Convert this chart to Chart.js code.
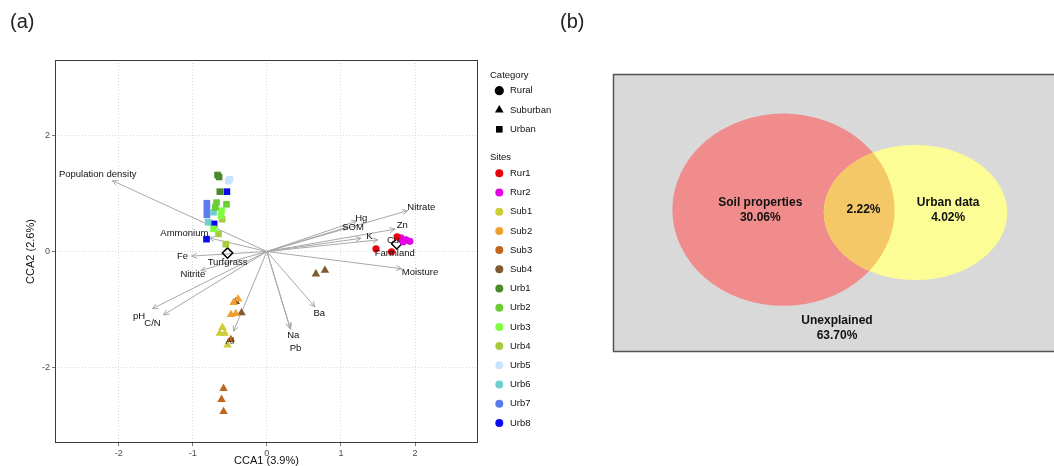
<!DOCTYPE html>
<html>
<head>
<meta charset="utf-8">
<script src="https://cdn.jsdelivr.net/npm/chart.js@4.4.0/dist/chart.umd.min.js"></script>
<style>
  html, body { margin: 0; padding: 0; background: #fff; }
  #wrap { position: relative; width: 1054px; height: 466px; overflow: hidden;
          font-family: 'Liberation Sans', Arial, Helvetica, sans-serif; }
  #cA { position: absolute; left: 0; top: 0; }
  #cB { position: absolute; left: 590px; top: 0; }
  .panel { position: absolute; font-size: 20px; line-height: 23px; color: #222; }
</style>
</head>
<body>
<div id="wrap">
  <canvas id="cA" width="590" height="466"></canvas>
  <canvas id="cB" width="464" height="466"></canvas>
  <div class="panel" style="left:10px;top:10px">(a)</div>
  <div class="panel" style="left:560px;top:10px">(b)</div>
</div>
<script>
// ---------- CCA ordination: site scores ----------
const categories = ['Rural', 'Suburban', 'Urban'];
const sites = ['Rur1', 'Rur2', 'Sub1', 'Sub2', 'Sub3', 'Sub4',
               'Urb1', 'Urb2', 'Urb3', 'Urb4', 'Urb5', 'Urb6', 'Urb7', 'Urb8'];
const siteCategory = ['Rural', 'Rural', 'Suburban', 'Suburban', 'Suburban', 'Suburban',
                      'Urban', 'Urban', 'Urban', 'Urban', 'Urban', 'Urban', 'Urban', 'Urban'];

// [CCA1, CCA2] per sample
const Rur1 = [[1.473, 0.046], [1.682, -0.005], [1.757, 0.253]];
const Rur2 = [[1.81, 0.235], [1.878, 0.201], [1.93, 0.175], [1.84, 0.167]];
const Sub1 = [[-0.599, -1.31], [-0.635, -1.41], [-0.568, -1.41], [-0.531, -1.61]];
const Sub2 = [[-0.388, -0.818], [-0.45, -0.88], [-0.486, -1.088], [-0.419, -1.07]];
const Sub3 = [[-0.486, -1.517], [-0.585, -2.36], [-0.612, -2.55], [-0.585, -2.76]];
const Sub4 = [[-0.419, -0.864], [-0.342, -1.058], [0.662, -0.388], [0.784, -0.326]];
const Urb1 = [[-0.666, 1.318], [-0.645, 1.284], [-0.635, 1.031]];
const Urb2 = [[-0.68, 0.842], [-0.545, 0.814], [-0.696, 0.76]];
const Urb3 = [[-0.612, 0.704], [-0.62, 0.619], [-0.72, 0.39]];
const Urb4 = [[-0.604, 0.557], [-0.653, 0.304], [-0.554, 0.127]];
const Urb5 = [[-0.50, 1.244], [-0.52, 1.215]];
const Urb6 = [[-0.72, 0.677], [-0.793, 0.505]];
const Urb7 = [[-0.81, 0.832], [-0.81, 0.734], [-0.81, 0.631]];
const Urb8 = [[-0.54, 1.031], [-0.712, 0.476], [-0.815, 0.213]];
const siteScores = [Rur1, Rur2, Sub1, Sub2, Sub3, Sub4, Urb1, Urb2, Urb3, Urb4, Urb5, Urb6, Urb7, Urb8];

// land-use centroids
const centroidNames = ['Turfgrass', 'Farmland'];
const centroidX = [-0.531, 1.753];
const centroidY = [-0.027, 0.132];

// environmental variable biplot arrows
const envNames = ['Population density', 'Ammonium', 'Fe', 'Nitrite', 'pH', 'C/N', 'Al',
                  'Na', 'Pb', 'Ba', 'Moisture', 'Cu', 'K', 'Zn', 'SOM', 'Hg', 'Nitrate'];
const envX = [-2.085, -0.78, -1.018, -0.892, -1.545, -1.396, -0.45,
              0.311, 0.32, 0.649, 1.82, 1.50, 1.27, 1.73, 1.095, 1.216, 1.90];
const envY = [1.22, 0.235, -0.079, -0.326, -0.985, -1.093, -1.375,
              -1.316, -1.34, -0.955, -0.297, 0.20, 0.227, 0.385, 0.424, 0.527, 0.704];

const xTicks = [-2, -1, 0, 1, 2];
const yTicks = [-2, 0, 2];
const xTitle = 'CCA1 (3.9%)';
const yTitle = 'CCA2 (2.6%)';

// ---------- variation partitioning ----------
const vennSets = ['Soil properties', 'Urban data'];
const vennShares = [30.06, 4.02];
const sharedShare = 2.22;
const unexplainedLabel = 'Unexplained';
const unexplainedShare = 63.70;

// ---------- styling ----------
const FONT = "'Liberation Sans', Arial, Helvetica, sans-serif";
Chart.defaults.font.family = FONT;
const siteColors = ['#e8000b', '#e600e6', '#cccc33', '#f0a030', '#c0661c', '#7f5a30',
                    '#4b8a2a', '#6acd34', '#80ff40', '#a6cb3e', '#c6e4ff', '#6fcfcf', '#5b7cf0', '#0a0af0'];
const shapeOf = { Rural: 'circle', Suburban: 'triangle', Urban: 'rect' };
const radiusOf = { Rural: 3.6, Suburban: 4.9, Urban: 4.7 };
// label placement relative to arrow tips (px)
const envLabelOffset = {
  'Population density': [-14.7, -6.7], 'Ammonium': [-24.7, -4], 'Fe': [-9, 0.4],
  'Nitrite': [-8, 4.3], 'pH': [-13.4, 7.7], 'C/N': [-11, 8], 'Al': [-3.7, 10],
  'Na': [3.3, 7.4], 'Pb': [5, 19], 'Ba': [4.3, 6.7], 'Moisture': [18.3, 3.3],
  'Cu': [15, 0], 'K': [8.5, -2], 'Zn': [7.3, -3.6], 'SOM': [5, 0],
  'Hg': [4.3, -2.7], 'Nitrate': [13.7, -3.4]
};
const centroidLabelOffset = [[0, 9], [-2, 9.5]];

const toXY = arr => arr.map(([x, y]) => ({ x, y }));

const datasets = sites.map((s, i) => ({
  label: s,
  data: toXY(siteScores[i]),
  pointStyle: shapeOf[siteCategory[i]],
  pointRadius: radiusOf[siteCategory[i]],
  backgroundColor: siteColors[i],
  borderColor: siteColors[i],
  borderWidth: 0,
  showLine: false
}));
datasets.push({
  label: 'centroids',
  data: centroidX.map((x, i) => ({ x, y: centroidY[i] })),
  pointStyle: 'rectRot',
  pointRadius: 5.2,
  backgroundColor: 'rgba(255,255,255,0)',
  borderColor: '#000',
  borderWidth: 1.5,
  showLine: false
});

function drawShape(ctx, shape, x, y, r) {
  ctx.beginPath();
  if (shape === 'circle') {
    ctx.arc(x, y, r, 0, Math.PI * 2);
  } else if (shape === 'triangle') {
    ctx.moveTo(x, y - r);
    ctx.lineTo(x + r * 0.866, y + r * 0.5);
    ctx.lineTo(x - r * 0.866, y + r * 0.5);
    ctx.closePath();
  } else {
    ctx.rect(x - r * 0.72, y - r * 0.72, r * 1.44, r * 1.44);
  }
  ctx.fill();
}

const biplot = {
  id: 'biplot',
  beforeDatasetsDraw(chart) {
    const { ctx, scales: { x, y } } = chart;
    const x0 = x.getPixelForValue(0), y0 = y.getPixelForValue(0);
    ctx.save();
    ctx.strokeStyle = '#a8a8a8';
    ctx.lineWidth = 1;
    envNames.forEach((n, i) => {
      const x1 = x.getPixelForValue(envX[i]), y1 = y.getPixelForValue(envY[i]);
      const a = Math.atan2(y1 - y0, x1 - x0), h = 6, s = Math.PI / 7;
      ctx.beginPath();
      ctx.moveTo(x0, y0);
      ctx.lineTo(x1, y1);
      ctx.moveTo(x1 - h * Math.cos(a - s), y1 - h * Math.sin(a - s));
      ctx.lineTo(x1, y1);
      ctx.lineTo(x1 - h * Math.cos(a + s), y1 - h * Math.sin(a + s));
      ctx.stroke();
    });
    ctx.restore();
  },
  afterDatasetsDraw(chart) {
    const { ctx, chartArea: a, scales: { x, y } } = chart;
    ctx.save();
    ctx.fillStyle = '#111';
    ctx.font = '9.5px ' + FONT;
    ctx.textAlign = 'center';
    ctx.textBaseline = 'middle';
    envNames.forEach((n, i) => {
      const o = envLabelOffset[n];
      ctx.fillText(n, x.getPixelForValue(envX[i]) + o[0], y.getPixelForValue(envY[i]) + o[1]);
    });
    centroidNames.forEach((n, i) => {
      const o = centroidLabelOffset[i];
      ctx.fillText(n, x.getPixelForValue(centroidX[i]) + o[0], y.getPixelForValue(centroidY[i]) + o[1]);
    });
    // panel border
    ctx.strokeStyle = '#3a3a3a';
    ctx.lineWidth = 1;
    ctx.strokeRect(a.left + 0.5, a.top + 0.5, a.right - a.left - 1, a.bottom - a.top - 1);
    ctx.restore();
  },
  afterDraw(chart) {
    const { ctx, chartArea: a } = chart;
    ctx.save();
    ctx.fillStyle = '#111';
    // axis titles
    ctx.font = '11px ' + FONT;
    ctx.textAlign = 'center';
    ctx.textBaseline = 'middle';
    ctx.fillText(xTitle, (a.left + a.right) / 2, 461);
    ctx.save();
    ctx.translate(31, (a.top + a.bottom) / 2);
    ctx.rotate(-Math.PI / 2);
    ctx.fillText(yTitle, 0, 0);
    ctx.restore();
    // legend
    ctx.font = '9.5px ' + FONT;
    ctx.textAlign = 'left';
    ctx.fillText('Category', 490, 75);
    categories.forEach((c, i) => {
      const yy = 90.7 + i * 19.3;
      ctx.fillStyle = '#000';
      drawShape(ctx, shapeOf[c], 499.3, yy, c === 'Suburban' ? 5 : 4.6);
      ctx.fillStyle = '#111';
      ctx.fillText(c, 510, yy);
    });
    ctx.fillText('Sites', 490, 157.7);
    sites.forEach((s, i) => {
      const yy = 173.3 + i * 19.2;
      ctx.fillStyle = siteColors[i];
      drawShape(ctx, 'circle', 499.3, yy, 4);
      ctx.fillStyle = '#111';
      ctx.fillText(s, 510, yy);
    });
    ctx.restore();
  }
};

new Chart(document.getElementById('cA'), {
  type: 'scatter',
  data: { datasets },
  options: {
    responsive: false,
    animation: false,
    layout: { padding: { left: 0, right: 112, top: 60, bottom: 0 } },
    plugins: { legend: { display: false }, tooltip: { enabled: false } },
    scales: {
      x: {
        type: 'linear', min: -2.86, max: 2.85,
        afterBuildTicks: s => { s.ticks = xTicks.map(v => ({ value: v })); },
        afterFit: s => { s.height = 23; },
        grid: { color: '#cfcfcf', lineWidth: 0.8, tickLength: 3, tickColor: '#555', tickWidth: 0.8 },
        border: { display: false, dash: [1, 2] },
        ticks: { color: '#4d4d4d', font: { size: 9 }, padding: 2, maxRotation: 0 }
      },
      y: {
        type: 'linear', min: -3.3, max: 3.3,
        afterBuildTicks: s => { s.ticks = yTicks.map(v => ({ value: v })); },
        afterFit: s => { s.width = 55; },
        grid: { color: '#cfcfcf', lineWidth: 0.8, tickLength: 3, tickColor: '#555', tickWidth: 0.8 },
        border: { display: false, dash: [1, 2] },
        ticks: { color: '#4d4d4d', font: { size: 9 }, padding: 2 }
      }
    }
  },
  plugins: [biplot]
});

// ---------- Venn diagram (b) ----------
// ellipse geometry in a 0-100 panel coordinate space
const vennShapes = [
  { cx: 38.66, cy: 51.0, rx: 25.2, ry: 34.7, fill: '#f08c8c' },
  { cx: 68.6, cy: 50.0, rx: 20.8, ry: 24.4, fill: '#fdfd96' }
];
const overlapFill = '#f4c866';
const vennLabelPos = [[33.4, 51], [76.0, 51]];
const sharedPos = [56.8, 50.9];
const unexplainedPos = [50.8, 8.2];

const vennPlugin = {
  id: 'venn',
  afterDraw(chart) {
    const { ctx, chartArea: a, scales: { x, y } } = chart;
    const px = v => x.getPixelForValue(v), py = v => y.getPixelForValue(v);
    const path = e => {
      ctx.beginPath();
      ctx.ellipse(px(e.cx), py(e.cy), px(e.cx + e.rx) - px(e.cx), py(e.cy) - py(e.cy + e.ry), 0, 0, Math.PI * 2);
    };
    ctx.save();
    ctx.fillStyle = '#d9d9d9';
    ctx.fillRect(a.left, a.top, a.right - a.left + 10, a.bottom - a.top);
    ctx.strokeStyle = '#555';
    ctx.lineWidth = 1.5;
    ctx.strokeRect(a.left + 0.5, a.top + 0.5, a.right - a.left + 20, a.bottom - a.top);
    vennShapes.forEach(e => { path(e); ctx.fillStyle = e.fill; ctx.fill(); });
    ctx.save();
    path(vennShapes[0]);
    ctx.clip();
    path(vennShapes[1]);
    ctx.fillStyle = overlapFill;
    ctx.fill();
    ctx.restore();

    ctx.fillStyle = '#111';
    ctx.font = 'bold 12px ' + FONT;
    ctx.textAlign = 'center';
    ctx.textBaseline = 'middle';
    const two = (l1, l2, p) => {
      ctx.fillText(l1, px(p[0]), py(p[1]) - 7.5);
      ctx.fillText(l2, px(p[0]), py(p[1]) + 7.5);
    };
    vennSets.forEach((s, i) => two(s, vennShares[i].toFixed(2) + '%', vennLabelPos[i]));
    ctx.fillText(sharedShare.toFixed(2) + '%', px(sharedPos[0]), py(sharedPos[1]));
    two(unexplainedLabel, unexplainedShare.toFixed(2) + '%', unexplainedPos);
    ctx.restore();
  }
};

new Chart(document.getElementById('cB'), {
  type: 'scatter',
  data: { datasets: [] },
  options: {
    responsive: false,
    animation: false,
    layout: { padding: { left: 23, right: 0, top: 74, bottom: 115 } },
    plugins: { legend: { display: false }, tooltip: { enabled: false } },
    scales: {
      x: { type: 'linear', min: 0, max: 100, display: false },
      y: { type: 'linear', min: 0, max: 100, display: false }
    }
  },
  plugins: [vennPlugin]
});
</script>
</body>
</html>
